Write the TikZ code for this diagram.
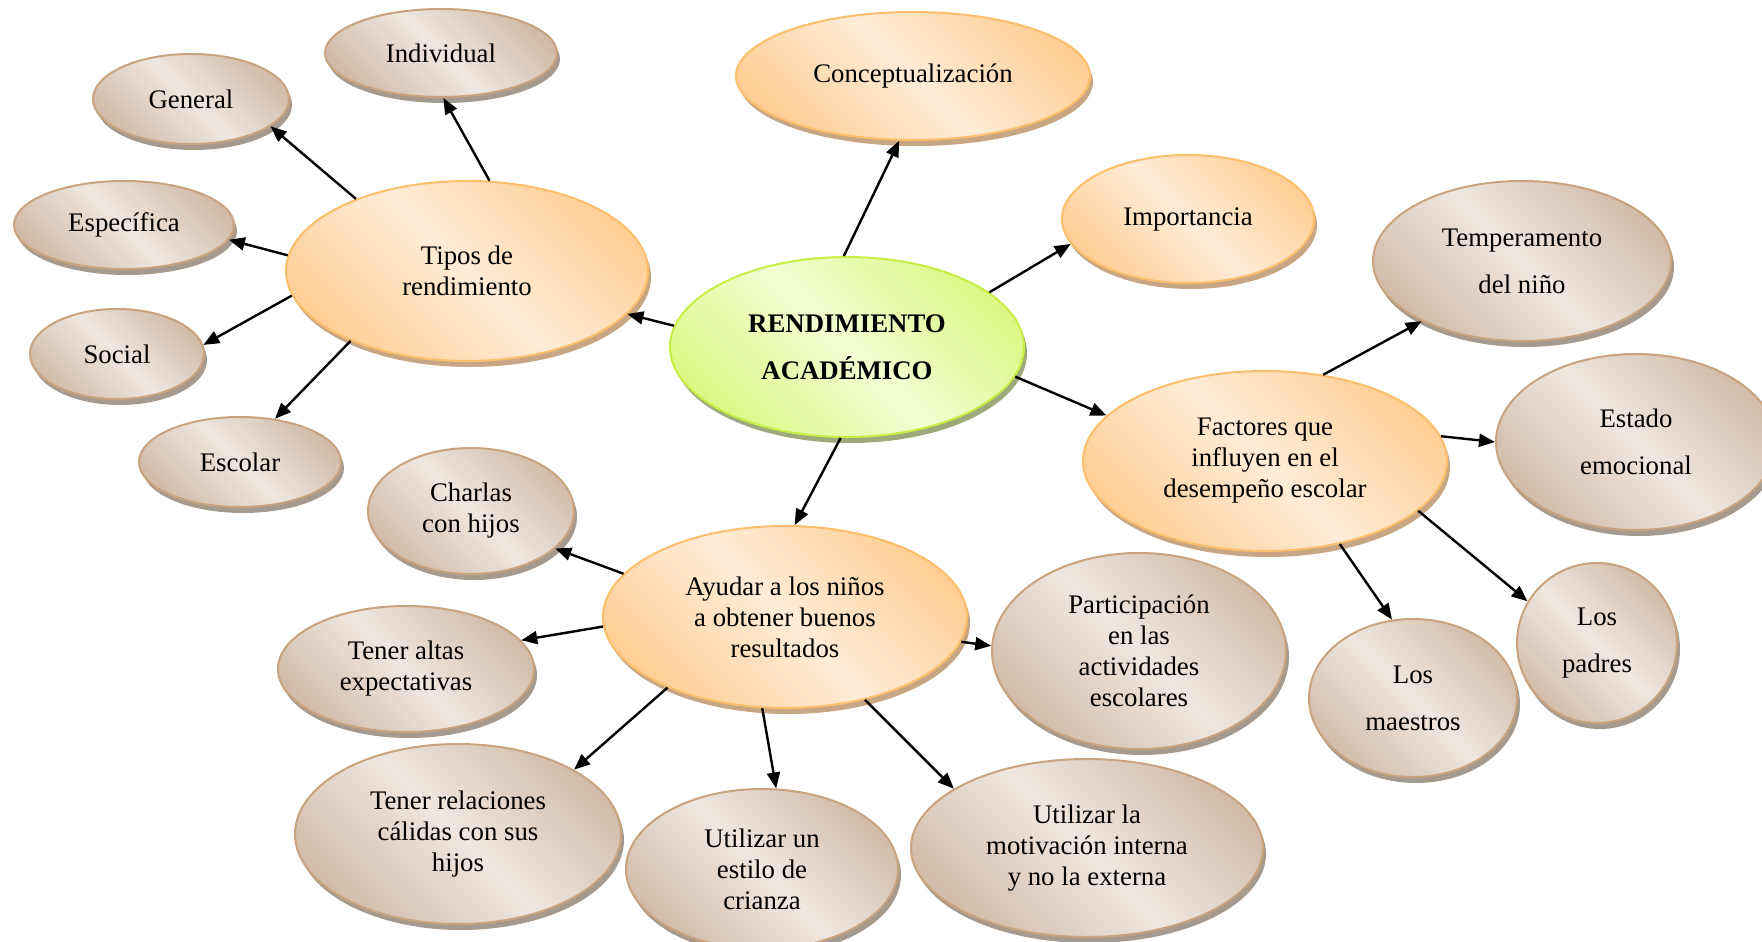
\documentclass[tikz,border=0pt]{standalone}
\usepackage{fontspec}
\setmainfont{Liberation Serif}
\usetikzlibrary{shapes,shadows,arrows.meta}

\definecolor{tanL}{HTML}{EFE7E0}
\definecolor{tanD}{HTML}{CBB09A}
\definecolor{tanLine}{HTML}{C9A27E}
\definecolor{tanShadow}{HTML}{A69A8E}
\definecolor{orL}{HTML}{FFECD8}
\definecolor{orD}{HTML}{FFC785}
\definecolor{orLine}{HTML}{FDBE6B}
\definecolor{orShadow}{HTML}{C8A583}
\definecolor{grL}{HTML}{F3FDD2}
\definecolor{grD}{HTML}{D6F673}
\definecolor{grLine}{HTML}{C6EE44}
\definecolor{grShadow}{HTML}{9DA97A}

\pgfdeclarehorizontalshading{tansh}{100bp}{color(0bp)=(tanD); color(18bp)=(tanD); color(50bp)=(tanL); color(82bp)=(tanD); color(100bp)=(tanD)}
\pgfdeclarehorizontalshading{orsh}{100bp}{color(0bp)=(orD); color(18bp)=(orD); color(50bp)=(orL); color(82bp)=(orD); color(100bp)=(orD)}
\pgfdeclarehorizontalshading{grsh}{100bp}{color(0bp)=(grD); color(18bp)=(grD); color(50bp)=(grL); color(82bp)=(grD); color(100bp)=(grD)}

\begin{document}
\begin{tikzpicture}[x=0.5pt,y=-0.5pt]
	\tikzset{bubble/.style={ellipse,inner sep=0pt,align=center,line width=1pt,font=\fontsize{13.4}{15.5}\selectfont}}
	\tikzset{tanbub/.style={bubble,draw=tanLine,shading=tansh,shading angle=45,drop shadow={shadow xshift=1.5pt,shadow yshift=-3pt,fill=tanShadow,opacity=1}}}
	\tikzset{orbub/.style={bubble,draw=orLine,shading=orsh,shading angle=45,drop shadow={shadow xshift=1.5pt,shadow yshift=-3pt,fill=orShadow,opacity=1}}}
	\tikzset{grbub/.style={bubble,draw=grLine,shading=grsh,shading angle=45,drop shadow={shadow xshift=1.5pt,shadow yshift=-3pt,fill=grShadow,opacity=1}}}
	\tikzset{arr/.style={-{Triangle[length=8pt,width=6.5pt]},line width=1.2pt}}
	\useasboundingbox (0,0) rectangle (1762,942);
	\node[grbub,minimum width=177pt,minimum height=90pt] (rend) at (847,347) {\textbf{RENDIMIENTO}\\[8pt]\textbf{ACADÉMICO}};
	\node[orbub,minimum width=177pt,minimum height=64pt] (concep) at (913,76) {Conceptualización};
	\node[orbub,minimum width=126pt,minimum height=64pt] (import) at (1188,219) {Importancia};
	\node[orbub,minimum width=181pt,minimum height=90pt] (tipos) at (467,271) {Tipos de\\rendimiento};
	\node[orbub,minimum width=182pt,minimum height=91pt] (ayudar) at (785,617) {Ayudar a los niños\\a obtener buenos\\resultados};
	\node[orbub,minimum width=182pt,minimum height=90pt] (factores) at (1265,461) {Factores que\\influyen en el\\desempeño escolar};
	\node[tanbub,minimum width=116pt,minimum height=44pt] (indiv) at (441,53) {Individual};
	\node[tanbub,minimum width=98pt,minimum height=45pt] (general) at (191,99) {General};
	\node[tanbub,minimum width=110pt,minimum height=44pt] (especif) at (124,225) {Específica};
	\node[tanbub,minimum width=87pt,minimum height=45pt] (social) at (117,354) {Social};
	\node[tanbub,minimum width=101pt,minimum height=45pt] (escolar) at (240,462) {Escolar};
	\node[tanbub,minimum width=103pt,minimum height=63pt] (charlas) at (471,511) {Charlas\\con hijos};
	\node[tanbub,minimum width=128pt,minimum height=63pt] (altas) at (406,669) {Tener altas\\expectativas};
	\node[tanbub,minimum width=163pt,minimum height=90pt] (calidas) at (458,834) {Tener relaciones\\cálidas con sus\\hijos};
	\node[tanbub,minimum width=136pt,minimum height=80pt] (crianza) at (762,869) {Utilizar un\\estilo de\\crianza};
	\node[tanbub,minimum width=176pt,minimum height=89pt] (motiv) at (1087,848) {Utilizar la\\motivación interna\\y no la externa};
	\node[tanbub,minimum width=147pt,minimum height=98pt] (particip) at (1139,651) {Participación\\en las\\actividades\\escolares};
	\node[tanbub,minimum width=149pt,minimum height=80pt] (temper) at (1522,261) {Temperamento\\[8pt]del niño};
	\node[tanbub,minimum width=140pt,minimum height=88pt] (estado) at (1636,442) {Estado\\[8pt]emocional};
	\node[tanbub,minimum width=104pt,minimum height=79pt] (maestros) at (1413,698) {Los\\[8pt]maestros};
	\node[tanbub,minimum width=80pt,minimum height=80pt] (padres) at (1597,643) {Los\\[8pt]padres};
	\draw[arr] (rend.92) -- (concep.258);
	\draw[arr] (rend.21) -- (import.192);
	\draw[arr] (rend.173) -- (tipos.345);
	\draw[arr] (rend.350) -- (factores.164);
	\draw[arr] (rend.266) -- (ayudar.84);
	\draw[arr] (tipos.76) -- (indiv.273);
	\draw[arr] (tipos.147) -- (general.341);
	\draw[arr] (tipos.175) -- (especif.352);
	\draw[arr] (tipos.188) -- (social.6);
	\draw[arr] (tipos.211) -- (escolar.51);
	\draw[arr] (ayudar.165) -- (charlas.336);
	\draw[arr] (ayudar.183) -- (altas.14);
	\draw[arr] (ayudar.211) -- (calidas.29);
	\draw[arr] (ayudar.256) -- (crianza.80);
	\draw[arr] (ayudar.314) -- (motiv.156);
	\draw[arr] (ayudar.352) -- (particip.178);
	\draw[arr] (factores.56) -- (temper.211);
	\draw[arr] (factores.8) -- (estado.180);
	\draw[arr] (factores.312) -- (maestros.105);
	\draw[arr] (factores.342) -- (padres.149);
\end{tikzpicture}
\end{document}
